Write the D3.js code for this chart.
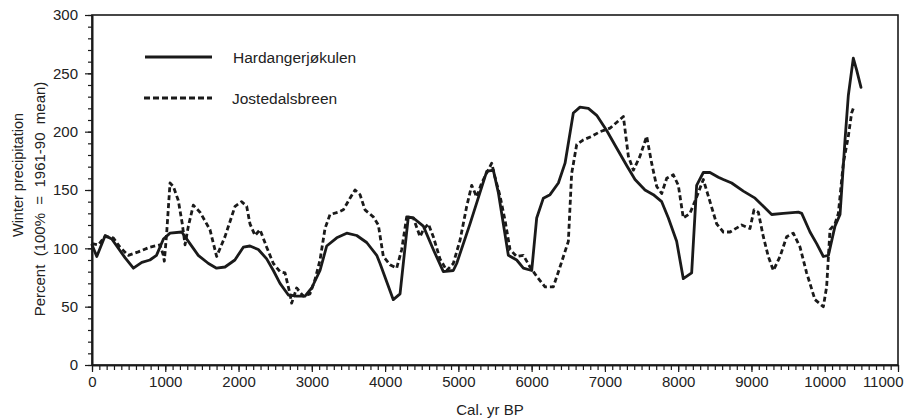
<!DOCTYPE html>
<html>
<head>
<meta charset="utf-8">
<script src="https://cdn.jsdelivr.net/npm/d3@7"></script>
<style>
  html, body { margin: 0; padding: 0; background: #fff; }
  svg { display: block; }
  text { font-family: "Liberation Sans", Arial, Helvetica, sans-serif; fill: #222; }
</style>
</head>
<body>
<svg id="chart" width="917" height="420"></svg>
<script>
// Reconstructed winter precipitation (percent of 1961-90 mean) against calendar age
const hardYears = [0, 65, 180, 270, 450, 565, 680, 790, 880, 975, 1065, 1225, 1315, 1450, 1590, 1700, 1815, 1950,
  2065, 2156, 2270, 2384, 2475, 2566, 2680, 2793, 2907, 2998, 3112, 3203, 3340, 3476, 3613, 3749, 3886, 3931,
  4112, 4204, 4317, 4386, 4522, 4658, 4795, 4931, 4977, 5159, 5387, 5477, 5545, 5682, 5796, 5887, 6001, 6069,
  6160, 6251, 6365, 6456, 6569, 6660, 6774, 6888, 7024, 7160, 7297, 7411, 7547, 7661, 7775, 7866, 7979, 8070,
  8184, 8252, 8343, 8434, 8548, 8616, 8730, 8889, 9049, 9162, 9276, 9435, 9640, 9686, 9799, 9890, 9981, 10050,
  10140, 10209, 10277, 10322, 10390, 10435, 10495];
const hardValues = [103, 93, 111, 108, 92, 83, 88, 90, 94, 108, 113, 114, 106, 94, 87, 83, 84, 90,
  101, 102, 99, 91, 81, 70, 60, 59, 59, 66, 81, 102, 109, 113, 111, 105, 94, 87,
  56, 61, 127, 126, 119, 99, 80, 81, 87, 121, 166, 167, 148, 94, 90, 83, 81, 126,
  143, 146, 156, 173, 216, 221, 220, 214, 201, 186, 171, 159, 150, 146, 140, 126, 106, 74,
  79, 154, 165, 165, 161, 159, 156, 149, 143, 136, 129, 130, 131, 130, 114, 104, 93, 94,
  119, 129, 193, 231, 263, 253, 238];

const jostYears = [0, 86, 177, 290, 382, 495, 632, 792, 928, 974, 987, 1019, 1065, 1110, 1178, 1232, 1270, 1315,
  1383, 1474, 1610, 1701, 1815, 1952, 2043, 2111, 2156, 2225, 2293, 2384, 2475, 2566, 2634, 2702, 2725, 2793,
  2884, 2975, 3043, 3112, 3180, 3248, 3362, 3430, 3521, 3590, 3658, 3726, 3839, 3908, 3976, 4067, 4158, 4227,
  4295, 4386, 4477, 4522, 4590, 4658, 4749, 4841, 4931, 5023, 5114, 5182, 5250, 5318, 5455, 5500, 5568, 5637,
  5705, 5796, 5887, 5978, 6069, 6183, 6296, 6387, 6501, 6546, 6615, 6706, 6820, 6933, 7070, 7252, 7320, 7389,
  7479, 7570, 7638, 7707, 7775, 7843, 7934, 8002, 8070, 8161, 8252, 8343, 8434, 8525, 8616, 8707, 8866, 8980,
  9035, 9094, 9162, 9230, 9299, 9390, 9481, 9571, 9663, 9753, 9867, 9981, 10026, 10072, 10140, 10186, 10254,
  10322, 10367, 10390];
const jostValues = [104, 103, 110, 109, 101, 94, 97, 101, 103, 94, 89, 113, 156, 153, 141, 121, 103, 119,
  137, 131, 116, 93, 110, 136, 140, 136, 121, 111, 116, 101, 87, 80, 79, 61, 53, 66,
  59, 61, 73, 90, 117, 129, 131, 133, 143, 150, 146, 133, 127, 120, 93, 86, 83, 99,
  127, 126, 110, 116, 121, 110, 91, 81, 87, 107, 136, 154, 144, 156, 173, 161, 145, 124,
  99, 93, 94, 84, 76, 67, 67, 84, 106, 164, 189, 193, 196, 200, 203, 213, 179, 167,
  179, 196, 173, 153, 147, 160, 163, 154, 126, 130, 144, 159, 140, 121, 114, 114, 120, 117,
  133, 131, 110, 93, 81, 93, 110, 113, 101, 79, 56, 50, 67, 116, 121, 130, 173,
  196, 216, 220];

const seriesNames = ["Hardangerjøkulen", "Jostedalsbreen"];
const xTickValues = d3.range(0, 11001, 1000);
const yTickValues = d3.range(0, 301, 50);
const xTitle = "Cal. yr BP";
const yTitleLines = ["Winter precipitation", "Percent  (100%  =  1961-90  mean)"];

const svg = d3.select("#chart");
const plotLeft = 92, plotRight = 898, plotTop = 15, plotBottom = 365;

const x = d3.scaleLinear().domain([0, 11000]).range([plotLeft, plotRight]);
const y = d3.scaleLinear().domain([0, 300]).range([plotBottom, plotTop]);

const ink = "#1a1a1a";
const labelSize = "15px";

// frame
svg.append("rect")
  .attr("x", plotLeft).attr("y", plotTop)
  .attr("width", plotRight - plotLeft).attr("height", plotBottom - plotTop)
  .attr("fill", "none").attr("stroke", ink).attr("stroke-width", 1.6);

// x axis: minor ticks every 100 yr, labelled ticks every 1000 yr
const xMinor = svg.append("g").attr("transform", `translate(0,${plotBottom})`)
  .call(d3.axisBottom(x).tickValues(d3.range(0, 11001, 100)).tickSize(5).tickFormat("").tickSizeOuter(0));
const xMajor = svg.append("g").attr("transform", `translate(0,${plotBottom})`)
  .call(d3.axisBottom(x).tickValues(xTickValues).tickSize(7).tickPadding(4).tickSizeOuter(0).tickFormat(d3.format("d")));
// y axis: minor ticks every 10, labelled ticks every 50
const yMinor = svg.append("g").attr("transform", `translate(${plotLeft},0)`)
  .call(d3.axisLeft(y).tickValues(d3.range(0, 301, 10)).tickSize(4).tickFormat("").tickSizeOuter(0));
const yMajor = svg.append("g").attr("transform", `translate(${plotLeft},0)`)
  .call(d3.axisLeft(y).tickValues(yTickValues).tickSize(7).tickPadding(7).tickSizeOuter(0));

[xMinor, xMajor, yMinor, yMajor].forEach(g => {
  g.select(".domain").attr("stroke", ink).attr("stroke-width", 1.6);
  g.selectAll(".tick line").attr("stroke", ink).attr("stroke-width", 1.2);
  g.selectAll(".tick text").style("font-size", labelSize).attr("fill", "#222")
    .style("font-family", "'Liberation Sans', Arial, sans-serif");
});

// the last year label sits flush with the right edge of the frame
xMajor.selectAll(".tick text")
  .filter(d => d === 11000)
  .attr("text-anchor", "end").attr("x", 5);

// axis titles
svg.append("text")
  .attr("x", 490).attr("y", 415)
  .attr("text-anchor", "middle").style("font-size", labelSize)
  .text(xTitle);

svg.append("text")
  .attr("transform", "translate(23,175) rotate(-90)")
  .attr("text-anchor", "middle").style("font-size", "14.5px")
  .text(yTitleLines[0]);
svg.append("text")
  .attr("transform", "translate(45,199) rotate(-90)")
  .attr("text-anchor", "middle").style("font-size", labelSize)
  .style("white-space", "pre").attr("xml:space", "preserve")
  .text(yTitleLines[1]);

// series lines
const line = d3.line().x(d => x(d[0])).y(d => y(d[1])).curve(d3.curveLinear);
const hardData = hardYears.map((v, i) => [v, hardValues[i]]);
const jostData = jostYears.map((v, i) => [v, jostValues[i]]);

svg.append("path").datum(jostData)
  .attr("d", line).attr("fill", "none").attr("stroke", ink)
  .attr("stroke-width", 2.8).attr("stroke-dasharray", "5,3")
  .attr("stroke-linejoin", "round");

svg.append("path").datum(hardData)
  .attr("d", line).attr("fill", "none").attr("stroke", ink)
  .attr("stroke-width", 2.8).attr("stroke-linejoin", "round").attr("stroke-linecap", "round");

// legend
const legend = svg.append("g");
legend.append("line").attr("x1", 145).attr("x2", 212).attr("y1", 57).attr("y2", 57)
  .attr("stroke", ink).attr("stroke-width", 3);
legend.append("text").attr("x", 233).attr("y", 62.5).style("font-size", "15.5px").text(seriesNames[0]);
legend.append("line").attr("x1", 144).attr("x2", 212).attr("y1", 98).attr("y2", 98)
  .attr("stroke", ink).attr("stroke-width", 3).attr("stroke-dasharray", "6,3");
legend.append("text").attr("x", 232).attr("y", 103.5).style("font-size", "15.5px").text(seriesNames[1]);
</script>
</body>
</html>
